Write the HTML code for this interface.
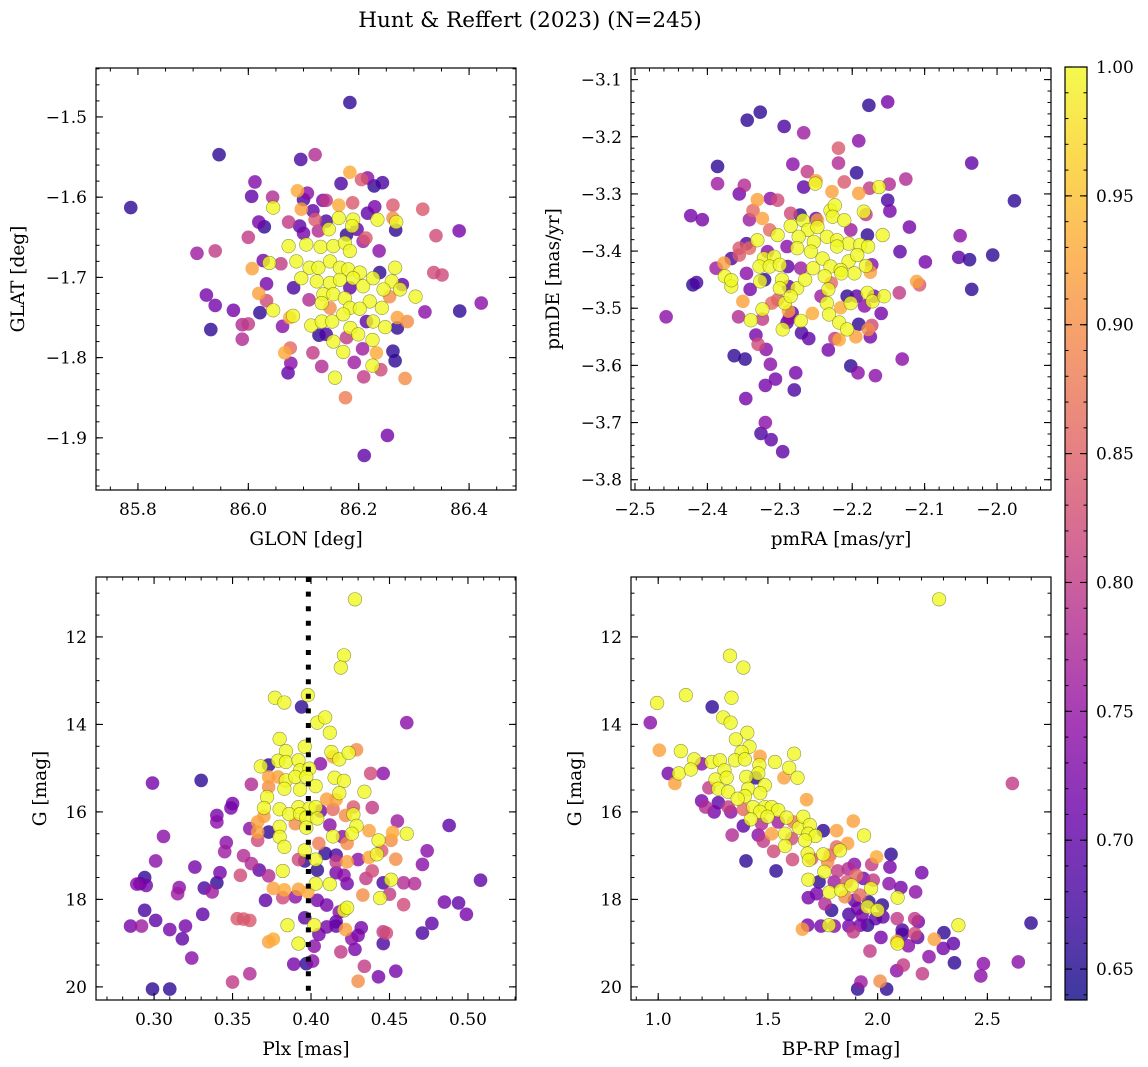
<!DOCTYPE html>
<html><head><meta charset="utf-8">
<style>
html,body{margin:0;padding:0;background:#fff;}
svg{display:block;font-family:"DejaVu Serif","Liberation Serif",serif;}
</style></head>
<body>
<svg id="fig" width="1148" height="1067" viewBox="0 0 1148 1067" xmlns="http://www.w3.org/2000/svg">
<text x="530" y="27" font-size="21.5" text-anchor="middle">Hunt &amp; Reffert (2023) (N=245)</text>
</svg>
<script>
// ---- data: [x, y, membership probability] ----
const glonGlatStars = [
[86.184,-1.482,.66],[85.947,-1.547,.66],[85.787,-1.613,.66],[86.095,-1.553,.68],[86.121,-1.547,.78],[86.184,-1.569,.93],[86.168,-1.583,.68],[86.205,-1.578,.84],[86.216,-1.576,.74],[86.228,-1.586,.66],[86.243,-1.582,.68],
[86.012,-1.581,.73],[86.006,-1.599,.70],[86.044,-1.600,.78],[86.045,-1.613,1.0],[86.089,-1.592,.93],[86.107,-1.595,.74],[86.10,-1.603,.68],[86.096,-1.615,.92],[86.117,-1.617,.70],[86.135,-1.604,.72],[86.141,-1.604,.80],
[86.164,-1.610,.93],[86.189,-1.607,.84],[86.229,-1.612,.72],[86.262,-1.610,.84],[86.316,-1.615,.84],[86.216,-1.620,.70],[86.262,-1.626,.90],[86.268,-1.631,1.0],[86.267,-1.641,.66],[86.234,-1.628,1.0],[86.164,-1.626,1.0],
[86.190,-1.628,1.0],[86.188,-1.636,1.0],[86.121,-1.628,.84],[86.141,-1.630,.68],[86.146,-1.640,1.0],[86.093,-1.636,.70],[86.073,-1.631,.80],[86.019,-1.631,.72],[86.029,-1.637,.66],[86.34,-1.648,.82],[86.382,-1.642,.72],
[86.0,-1.650,.80],[86.10,-1.645,.72],[86.127,-1.642,.78],[86.178,-1.647,.66],[86.197,-1.640,.70],[86.213,-1.651,.84],[86.208,-1.655,.76],[86.073,-1.661,1.0],[86.105,-1.659,1.0],[86.131,-1.662,1.0],[86.154,-1.661,1.0],
[86.175,-1.657,1.0],[86.184,-1.667,1.0],[86.237,-1.667,.74],[85.907,-1.670,.76],[85.94,-1.667,.80],[86.027,-1.679,.72],[86.038,-1.682,1.0],[86.059,-1.683,.80],[86.007,-1.689,.92],[86.087,-1.680,1.0],[86.111,-1.688,1.0],
[86.127,-1.688,1.0],[86.148,-1.680,1.0],[86.166,-1.688,1.0],[86.181,-1.690,1.0],[86.202,-1.694,1.0],[86.238,-1.694,.66],[86.266,-1.688,1.0],[86.336,-1.694,.82],[86.351,-1.697,.82],[86.033,-1.708,.72],[86.082,-1.713,.68],
[86.096,-1.701,1.0],[86.124,-1.705,1.0],[86.148,-1.707,1.0],[86.166,-1.703,1.0],[86.190,-1.701,1.0],[86.208,-1.711,1.0],[86.226,-1.701,1.0],[86.26,-1.705,1.0],[86.279,-1.709,.70],[86.275,-1.715,1.0],[86.245,-1.715,1.0],
[85.924,-1.722,.72],[86.019,-1.720,.92],[86.033,-1.729,.82],[86.11,-1.728,.78],[86.136,-1.721,1.0],[86.154,-1.721,1.0],[86.175,-1.726,1.0],[86.184,-1.713,.70],[86.22,-1.730,1.0],[86.256,-1.724,.90],[86.303,-1.724,1.0],
[85.94,-1.735,.72],[85.973,-1.741,.72],[86.045,-1.741,1.0],[86.021,-1.744,.66],[86.133,-1.732,1.0],[86.148,-1.738,.90],[86.184,-1.738,1.0],[86.202,-1.739,1.0],[86.242,-1.738,1.0],[86.32,-1.743,.74],[86.383,-1.742,.66],
[86.422,-1.732,.74],[85.932,-1.765,.66],[85.989,-1.759,.78],[86.0,-1.758,.80],[85.989,-1.777,.78],[86.062,-1.761,.74],[86.075,-1.750,.93],[86.081,-1.748,1.0],[86.114,-1.760,1.0],[86.133,-1.755,1.0],[86.152,-1.755,1.0],
[86.172,-1.746,1.0],[86.185,-1.763,1.0],[86.214,-1.755,.70],[86.226,-1.755,1.0],[86.248,-1.762,1.0],[86.27,-1.763,.66],[86.27,-1.750,.92],[86.288,-1.755,.90],[86.128,-1.772,.66],[86.141,-1.771,.68],[86.154,-1.780,1.0],
[86.178,-1.775,.80],[86.199,-1.771,1.0],[86.225,-1.778,1.0],[86.207,-1.789,.76],[86.076,-1.788,.86],[86.066,-1.794,.93],[86.117,-1.794,.80],[86.172,-1.793,1.0],[86.232,-1.794,.93],[86.262,-1.792,.66],[86.266,-1.804,.66],
[86.077,-1.807,.74],[86.072,-1.819,.70],[86.133,-1.811,.78],[86.192,-1.806,.76],[86.225,-1.810,1.0],[86.24,-1.815,.82],[86.157,-1.825,1.0],[86.209,-1.824,.80],[86.284,-1.826,.90],[86.176,-1.850,.88],[86.252,-1.897,.72],
[86.21,-1.922,.70]];
const pmStars = [
[-2.177,-3.145,.66],[-2.151,-3.139,.72],[-2.345,-3.171,.66],[-2.327,-3.157,.66],[-2.294,-3.182,.68],[-2.267,-3.193,.76],[-2.191,-3.207,.74],[-2.219,-3.220,.84],[-2.386,-3.252,.66],[-2.282,-3.248,.74],[-2.219,-3.246,.78],
[-2.035,-3.246,.70],[-2.262,-3.261,.80],[-2.194,-3.263,.66],[-2.211,-3.279,.84],[-2.250,-3.277,.92],[-2.251,-3.282,1.0],[-2.267,-3.288,.70],[-2.228,-3.296,.92],[-2.191,-3.299,.92],[-2.176,-3.290,.80],[-2.163,-3.288,1.0],
[-2.149,-3.283,.78],[-2.126,-3.274,.78],[-2.386,-3.282,.76],[-2.349,-3.285,.78],[-2.356,-3.300,.72],[-2.331,-3.310,.92],[-2.313,-3.308,.74],[-2.303,-3.311,.82],[-2.151,-3.311,.68],[-2.148,-3.330,.72],[-1.976,-3.312,.66],
[-2.423,-3.338,.72],[-2.407,-3.345,.72],[-2.337,-3.329,.86],[-2.342,-3.345,.76],[-2.324,-3.343,.92],[-2.285,-3.334,.82],[-2.272,-3.337,.66],[-2.268,-3.346,1.0],[-2.250,-3.343,.70],[-2.248,-3.346,.92],[-2.230,-3.329,1.0],
[-2.224,-3.320,1.0],[-2.227,-3.340,1.0],[-2.211,-3.346,1.0],[-2.184,-3.331,1.0],[-2.181,-3.336,.80],[-2.202,-3.363,.76],[-2.314,-3.363,.86],[-2.285,-3.356,1.0],[-2.261,-3.363,1.0],[-2.248,-3.358,1.0],[-2.121,-3.358,.72],
[-2.331,-3.381,1.0],[-2.346,-3.387,.68],[-2.303,-3.372,1.0],[-2.274,-3.375,1.0],[-2.253,-3.384,1.0],[-2.235,-3.375,1.0],[-2.221,-3.381,1.0],[-2.205,-3.387,1.0],[-2.179,-3.372,.66],[-2.158,-3.372,1.0],[-2.051,-3.373,.74],
[-2.356,-3.395,.84],[-2.342,-3.395,.86],[-2.317,-3.401,.74],[-2.290,-3.392,.74],[-2.276,-3.395,1.0],[-2.257,-3.401,1.0],[-2.221,-3.392,1.0],[-2.189,-3.389,1.0],[-2.178,-3.392,1.0],[-2.134,-3.401,.70],[-2.367,-3.413,.68],
[-2.356,-3.407,.84],[-2.322,-3.413,1.0],[-2.308,-3.410,1.0],[-2.241,-3.413,1.0],[-2.205,-3.418,1.0],[-2.193,-3.407,1.0],[-2.099,-3.419,.72],[-2.053,-3.411,.70],[-2.038,-3.415,.66],[-2.006,-3.407,.66],[-2.388,-3.430,.76],
[-2.377,-3.421,.92],[-2.346,-3.439,.74],[-2.328,-3.427,1.0],[-2.314,-3.427,1.0],[-2.300,-3.424,1.0],[-2.289,-3.427,.70],[-2.271,-3.430,.76],[-2.254,-3.430,1.0],[-2.230,-3.427,1.0],[-2.216,-3.433,1.0],[-2.197,-3.439,1.0],
[-2.181,-3.426,1.0],[-2.173,-3.424,.74],[-2.175,-3.437,.92],[-2.376,-3.444,1.0],[-2.420,-3.459,.66],[-2.415,-3.455,.68],[-2.367,-3.462,1.0],[-2.367,-3.451,1.0],[-2.327,-3.453,1.0],[-2.321,-3.450,.66],[-2.297,-3.450,1.0],
[-2.288,-3.462,.70],[-2.276,-3.465,1.0],[-2.265,-3.450,1.0],[-2.238,-3.444,1.0],[-2.229,-3.456,.86],[-2.215,-3.439,1.0],[-2.111,-3.453,.92],[-2.107,-3.459,.84],[-2.035,-3.467,.66],[-2.341,-3.467,.72],[-2.300,-3.465,1.0],
[-2.233,-3.467,1.0],[-2.243,-3.479,.76],[-2.207,-3.479,.66],[-2.194,-3.479,.70],[-2.179,-3.473,1.0],[-2.170,-3.479,.72],[-2.172,-3.488,1.0],[-2.156,-3.479,1.0],[-2.135,-3.473,.80],[-2.457,-3.515,.74],[-2.357,-3.515,.78],
[-2.351,-3.488,.92],[-2.340,-3.521,1.0],[-2.324,-3.502,1.0],[-2.311,-3.491,.86],[-2.303,-3.485,.84],[-2.293,-3.491,1.0],[-2.288,-3.505,.92],[-2.285,-3.479,1.0],[-2.283,-3.508,.70],[-2.271,-3.522,1.0],[-2.255,-3.509,.93],
[-2.235,-3.491,1.0],[-2.232,-3.511,1.0],[-2.216,-3.499,.93],[-2.202,-3.491,1.0],[-2.183,-3.496,.74],[-2.160,-3.509,.72],[-2.324,-3.519,.80],[-2.296,-3.537,1.0],[-2.290,-3.525,.70],[-2.287,-3.517,.74],[-2.218,-3.525,1.0],
[-2.207,-3.537,1.0],[-2.191,-3.528,.66],[-2.173,-3.530,.82],[-2.178,-3.537,.90],[-2.333,-3.547,.72],[-2.330,-3.563,.82],[-2.319,-3.572,.74],[-2.270,-3.543,.68],[-2.260,-3.553,.70],[-2.233,-3.573,.72],[-2.224,-3.553,.80],
[-2.218,-3.555,.93],[-2.195,-3.550,.92],[-2.175,-3.550,.72],[-2.363,-3.583,.66],[-2.348,-3.589,.66],[-2.313,-3.598,.74],[-2.131,-3.589,.74],[-2.202,-3.601,.66],[-2.192,-3.613,.74],[-2.168,-3.618,.74],[-2.278,-3.613,.72],
[-2.306,-3.624,.72],[-2.320,-3.635,.72],[-2.280,-3.643,.68],[-2.347,-3.658,.72],[-2.320,-3.700,.74],[-2.326,-3.719,.68],[-2.312,-3.730,.70],[-2.296,-3.751,.70]];
const plxGStars = [
[.428,11.14,1.0],[.421,12.42,1.0],[.419,12.70,1.0],[.377,13.39,1.0],[.383,13.50,1.0],[.394,13.60,.66],[.398,13.33,1.0],[.404,13.96,1.0],[.409,13.84,1.0],[.461,13.96,.74],[.412,14.19,1.0],[.380,14.33,1.0],[.384,14.61,1.0],
[.396,14.51,1.0],[.413,14.63,1.0],[.414,14.74,.92],[.418,14.80,1.0],[.424,14.65,1.0],[.429,14.58,.90],[.368,14.96,1.0],[.373,14.93,.66],[.379,14.83,1.0],[.384,14.86,1.0],[.392,14.82,1.0],[.393,15.05,1.0],[.399,15.01,1.0],
[.406,14.90,.74],[.438,15.12,.82],[.446,15.12,.74],[.299,15.34,.72],[.330,15.28,.66],[.362,15.37,.78],[.373,15.20,.92],[.379,15.20,.92],[.384,15.28,1.0],[.390,15.20,1.0],[.397,15.20,1.0],[.403,15.41,1.0],[.415,15.22,1.0],
[.421,15.29,1.0],[.373,15.43,.90],[.383,15.47,1.0],[.393,15.49,1.0],[.418,15.57,1.0],[.434,15.54,1.0],[.372,15.66,1.0],[.410,15.71,.92],[.416,15.72,.92],[.350,15.81,.72],[.349,15.91,.72],[.370,15.91,1.0],[.380,15.94,1.0],
[.392,15.89,1.0],[.399,15.92,1.0],[.403,15.89,1.0],[.406,15.98,.72],[.414,15.94,.86],[.427,15.89,.84],[.439,15.90,.80],[.340,16.08,.72],[.340,16.23,.74],[.366,16.23,.92],[.370,16.10,.92],[.386,16.05,1.0],[.393,16.05,1.0],
[.397,16.13,1.0],[.404,16.15,1.0],[.422,16.08,.90],[.427,16.06,1.0],[.455,16.21,.76],[.488,16.31,.70],[.361,16.38,.74],[.366,16.46,.92],[.373,16.46,.66],[.380,16.34,1.0],[.390,16.27,.90],[.397,16.36,1.0],[.412,16.30,.74],
[.429,16.32,1.0],[.306,16.56,.74],[.346,16.70,.74],[.345,16.91,.76],[.366,16.65,.82],[.380,16.57,1.0],[.383,16.80,1.0],[.414,16.56,1.0],[.420,16.57,.74],[.423,16.72,.90],[.426,16.50,1.0],[.437,16.43,.92],[.443,16.65,1.0],
[.452,16.47,.93],[.461,16.50,1.0],[.451,16.65,.90],[.405,16.72,.88],[.396,16.88,1.0],[.301,17.12,.74],[.357,17.00,.78],[.362,17.18,.78],[.392,17.09,.82],[.396,17.12,.66],[.403,17.09,1.0],[.409,16.95,.66],[.416,16.99,.68],
[.416,17.14,.80],[.423,17.14,.92],[.430,17.09,.74],[.437,17.04,.93],[.442,16.97,1.0],[.445,16.89,.84],[.454,17.08,.90],[.471,17.20,.74],[.474,16.89,.74],[.326,17.26,.72],[.342,17.39,.72],[.367,17.33,.70],[.382,17.35,1.0],
[.404,17.33,.66],[.416,17.39,.72],[.421,17.45,.74],[.439,17.35,.82],[.435,17.52,.80],[.294,17.50,.66],[.289,17.65,.74],[.295,17.68,.72],[.291,17.64,.70],[.316,17.73,.74],[.315,17.87,.76],[.332,17.74,.68],[.340,17.62,.66],
[.337,17.83,.76],[.355,17.45,.82],[.373,17.46,.78],[.403,17.64,1.0],[.412,17.65,1.0],[.423,17.64,.72],[.446,17.62,.68],[.451,17.55,1.0],[.459,17.62,.78],[.466,17.64,.78],[.508,17.56,.70],[.376,17.75,.92],[.383,17.78,.93],
[.382,17.96,.82],[.390,17.94,.74],[.392,17.77,.92],[.398,17.83,.93],[.371,18.02,.70],[.404,18.02,.72],[.410,18.13,.72],[.433,17.90,.90],[.444,17.97,1.0],[.450,17.88,.80],[.459,18.12,.82],[.485,18.06,.72],[.494,18.08,.70],
[.499,18.34,.72],[.294,18.25,.68],[.301,18.48,.70],[.285,18.61,.72],[.292,18.61,.76],[.310,18.69,.72],[.320,18.61,.72],[.331,18.34,.70],[.318,18.90,.70],[.353,18.44,.84],[.357,18.45,.84],[.361,18.48,.84],[.385,18.59,1.0],
[.396,18.42,.70],[.402,18.59,1.0],[.410,18.63,.72],[.416,18.51,.70],[.416,18.61,.70],[.421,18.25,1.0],[.423,18.19,1.0],[.418,18.29,.74],[.422,18.69,.92],[.432,18.65,.72],[.430,18.82,.72],[.426,18.90,.74],[.446,18.74,.80],
[.448,18.77,.82],[.471,18.77,.68],[.477,18.55,.70],[.373,18.97,.92],[.376,18.91,.93],[.392,19.01,1.0],[.405,18.80,.72],[.402,19.07,.74],[.419,19.20,.80],[.428,19.14,.72],[.446,19.01,.68],[.324,19.34,.74],[.389,19.48,.72],
[.397,19.47,.66],[.401,19.41,.74],[.434,19.53,.80],[.454,19.64,.72],[.443,19.77,.72],[.361,19.70,.78],[.350,19.89,.80],[.430,19.87,.90],[.299,20.05,.66],[.310,20.05,.66]];
const cmdStars = [
[2.280,11.14,1.0],[1.327,12.43,1.0],[1.388,12.70,1.0],[0.995,13.51,1.0],[1.126,13.33,1.0],[1.334,13.39,1.0],[1.246,13.60,.66],[0.964,13.96,.74],[1.296,13.84,1.0],[1.330,13.96,1.0],[1.406,14.19,1.0],[1.354,14.34,1.0],
[1.416,14.51,1.0],[1.005,14.59,.92],[1.103,14.61,1.0],[1.380,14.63,1.0],[1.464,14.73,.92],[1.619,14.67,1.0],[1.164,14.80,1.0],[1.243,14.86,1.0],[1.281,14.82,1.0],[1.350,14.82,1.0],[1.395,14.80,1.0],[1.532,14.86,1.0],
[1.461,14.93,1.0],[1.198,14.90,.74],[1.046,15.12,.72],[1.094,15.12,1.0],[1.149,15.03,1.0],[1.302,15.05,1.0],[1.456,15.12,1.0],[1.597,14.99,1.0],[1.261,15.26,1.0],[1.312,15.22,1.0],[1.401,15.20,1.0],[1.444,15.22,.66],
[1.635,15.22,1.0],[1.573,15.22,.92],[1.076,15.35,.92],[2.614,15.35,.80],[1.231,15.45,.80],[1.274,15.47,1.0],[1.410,15.47,1.0],[1.486,15.39,1.0],[1.319,15.54,1.0],[1.465,15.57,1.0],[1.395,15.64,1.0],[1.676,15.72,.92],
[1.362,15.70,1.0],[1.198,15.75,.72],[1.274,15.79,.70],[1.216,15.89,.78],[1.255,16.00,.72],[1.319,15.89,.80],[1.331,16.00,.74],[1.388,15.94,.86],[1.433,15.89,1.0],[1.486,15.89,1.0],[1.517,15.89,1.0],[1.464,16.00,1.0],
[1.422,16.17,1.0],[1.547,15.96,1.0],[1.585,16.13,1.0],[1.498,16.11,1.0],[1.471,16.27,.78],[1.388,16.32,.70],[1.547,16.23,.76],[1.616,16.23,.88],[1.641,16.36,1.0],[1.661,16.11,1.0],[1.691,16.30,1.0],[1.889,16.21,.92],
[1.752,16.43,.66],[1.813,16.43,.92],[1.938,16.54,1.0],[1.337,16.53,.78],[1.456,16.53,.74],[1.517,16.50,.92],[1.578,16.50,1.0],[1.608,16.61,.82],[1.684,16.50,1.0],[1.717,16.55,1.0],[1.669,16.65,1.0],[1.479,16.67,.80],
[1.578,16.78,1.0],[1.863,16.72,.92],[1.813,16.80,.86],[1.526,16.90,.82],[1.612,17.09,.82],[1.681,16.95,1.0],[1.699,17.07,.84],[1.752,16.97,1.0],[1.828,16.88,1.0],[1.783,16.99,.86],[1.400,17.12,.66],[1.537,17.35,.66],
[1.687,17.10,1.0],[1.772,17.14,.90],[1.866,17.30,.78],[1.894,17.20,.74],[1.973,17.20,.80],[1.995,17.03,.93],[2.061,16.97,.66],[2.056,17.26,.72],[2.201,17.39,.72],[1.757,17.37,1.0],[1.818,17.35,.80],[1.903,17.45,.86],
[1.684,17.55,1.0],[1.733,17.60,.66],[1.802,17.60,.76],[1.859,17.60,.84],[1.935,17.52,.72],[1.980,17.56,.80],[2.052,17.64,.74],[2.106,17.73,.72],[2.173,17.83,.74],[1.780,17.84,1.0],[1.833,17.79,1.0],[1.881,17.68,1.0],
[1.970,17.75,1.0],[1.851,17.94,.90],[1.919,17.90,.86],[1.684,17.96,.72],[1.722,17.87,.72],[1.894,18.02,.70],[1.960,18.06,.66],[2.091,17.96,1.0],[1.760,18.10,.78],[1.790,18.25,.66],[1.909,18.21,.72],[1.954,18.17,1.0],
[2.0,18.25,1.0],[2.021,18.13,.66],[1.869,18.34,.68],[1.929,18.36,.72],[1.990,18.44,.70],[2.024,18.40,.70],[2.089,18.44,.80],[2.169,18.44,.80],[2.185,18.51,.72],[1.681,18.59,.72],[1.657,18.68,.92],[1.742,18.61,.72],
[1.778,18.59,1.0],[1.802,18.61,.74],[1.869,18.61,.72],[1.921,18.59,.72],[1.954,18.59,.66],[1.889,18.74,.80],[2.112,18.70,.68],[2.112,18.80,.68],[2.169,18.78,.82],[2.182,18.87,.70],[2.302,18.76,.66],[2.368,18.59,1.0],
[2.699,18.54,.66],[2.015,18.87,.72],[2.087,18.96,.93],[2.091,19.01,1.0],[2.140,19.06,.74],[2.258,18.91,.92],[2.299,19.12,.72],[2.345,19.01,.70],[1.965,19.18,.80],[2.234,19.31,.74],[2.350,19.45,.66],[2.482,19.47,.74],
[2.641,19.43,.74],[2.117,19.50,.80],[2.087,19.63,.74],[2.204,19.70,.80],[2.470,19.75,.74],[1.924,19.89,.76],[2.011,19.87,.90],[1.909,20.05,.66],[2.041,20.05,.66]];
const plxReference = [0.3983];
const glonTicks = [85.8, 86.0, 86.2, 86.4];
const glatTicks = [-1.5, -1.6, -1.7, -1.8, -1.9];
const pmraTicks = [-2.5, -2.4, -2.3, -2.2, -2.1, -2.0];
const pmdeTicks = [-3.1, -3.2, -3.3, -3.4, -3.5, -3.6, -3.7, -3.8];
const plxTicks = [0.30, 0.35, 0.40, 0.45, 0.50];
const gTicks = [12, 14, 16, 18, 20];
const bprpTicks = [1.0, 1.5, 2.0, 2.5];
const cbarTicks = [0.65, 0.70, 0.75, 0.80, 0.85, 0.90, 0.95, 1.00];

const NS = "http://www.w3.org/2000/svg";
const svg = document.getElementById('fig');
const VMIN = 0.638, VMAX = 1.0;
const plasma = [[13,8,135],[65,4,157],[106,0,168],[143,13,164],[177,42,144],[204,71,120],[225,100,98],[242,132,75],[252,166,54],[252,206,37],[240,249,33]];
function cmap(v){
  let t = Math.max(0, Math.min(1, (v - VMIN) / (VMAX - VMIN))) * 10;
  const i = Math.min(9, Math.floor(t)), f = t - i;
  const a = plasma[i], b = plasma[i+1];
  return 'rgb(' + [0,1,2].map(k => Math.round(a[k] + (b[k]-a[k])*f)).join(',') + ')';
}
function mk(tag, attrs, parent){
  const e = document.createElementNS(NS, tag);
  for (const k in attrs) e.setAttribute(k, attrs[k]);
  (parent || svg).appendChild(e);
  return e;
}
function fmt(v, d){ return (v < 0 ? '\u2212' : '') + Math.abs(v).toFixed(d); }

function panel(cfg){
  const g = mk('g', {});
  
  
  const L = cfg.box[0], T = cfg.box[1], R = cfg.box[2], B = cfg.box[3];
  const sx = v => L + (v - cfg.xr[0]) / (cfg.xr[1] - cfg.xr[0]) * (R - L);
  const sy = v => cfg.yInv ? T + (v - cfg.yr[0]) / (cfg.yr[1] - cfg.yr[0]) * (B - T)
                           : B - (v - cfg.yr[0]) / (cfg.yr[1] - cfg.yr[0]) * (B - T);
  const clip = mk('clipPath', {id: cfg.name + '-clip'}, g);
  mk('rect', {x: L, y: T, width: R - L, height: B - T}, clip);
  const pts = mk('g', {'clip-path': 'url(#' + cfg.name + '-clip)'}, g);
  const sorted = cfg.data.slice().sort((a, b) => a[2] - b[2]);
  sorted.forEach(d => {
    const c = mk('circle', {cx: sx(d[0]), cy: sy(d[1]), r: 6.8, fill: cmap(d[2]), 'fill-opacity': 0.8,
      stroke: d[2] > 0.95 ? 'rgba(70,70,20,0.55)' : 'none', 'stroke-width': 0.6}, pts);
    
    
  });
  if (cfg.vline) cfg.vline.forEach(v => {
    const ln = mk('line', {x1: sx(v), x2: sx(v), y1: T, y2: B, stroke: '#000', 'stroke-width': 5, 'stroke-dasharray': '5,9.6'}, pts);
    
    
  });
  const minor = (a, b, step, fn) => { const n0 = Math.ceil(a/step - 1e-6), n1 = Math.floor(b/step + 1e-6); for (let n = n0; n <= n1; n++) fn(n*step); };
  minor(cfg.xr[0], cfg.xr[1], cfg.xminor, v => { const x = sx(v);
    mk('line', {x1: x, x2: x, y1: B, y2: B - 3.5, stroke: '#000', 'stroke-width': 1}, g);
    mk('line', {x1: x, x2: x, y1: T, y2: T + 3.5, stroke: '#000', 'stroke-width': 1}, g); });
  const ylo = Math.min(cfg.yr[0], cfg.yr[1]), yhi = Math.max(cfg.yr[0], cfg.yr[1]);
  minor(ylo, yhi, cfg.yminor, v => { const y = sy(v);
    mk('line', {x1: L, x2: L + 3.5, y1: y, y2: y, stroke: '#000', 'stroke-width': 1}, g);
    mk('line', {x1: R, x2: R - 3.5, y1: y, y2: y, stroke: '#000', 'stroke-width': 1}, g); });
  cfg.xt.forEach(v => { const x = sx(v);
    mk('line', {x1: x, x2: x, y1: B, y2: B - 7, stroke: '#000', 'stroke-width': 1.1}, g);
    mk('line', {x1: x, x2: x, y1: T, y2: T + 7, stroke: '#000', 'stroke-width': 1.1}, g);
    const t = mk('text', {x: x, y: B + 25, 'font-size': 17, 'text-anchor': 'middle'}, g);
    t.textContent = fmt(v, cfg.xd);
    
     });
  cfg.yt.forEach(v => { const y = sy(v);
    mk('line', {x1: L, x2: L + 7, y1: y, y2: y, stroke: '#000', 'stroke-width': 1.1}, g);
    mk('line', {x1: R, x2: R - 7, y1: y, y2: y, stroke: '#000', 'stroke-width': 1.1}, g);
    const t = mk('text', {x: L - 9, y: y + 6, 'font-size': 17, 'text-anchor': 'end'}, g);
    t.textContent = fmt(v, cfg.yd);
    
     });
  const fr = mk('rect', {x: L, y: T, width: R - L, height: B - T, fill: 'none', stroke: '#000', 'stroke-width': 1.2}, g);
  
  
  const xl = mk('text', {x: (L + R)/2, y: B + 55, 'font-size': 18.5, 'text-anchor': 'middle'}, g);
  xl.textContent = cfg.xlabel;
  
  
  const yl = mk('text', {x: 0, y: 0, 'font-size': 18.5, 'text-anchor': 'middle', transform: 'translate(' + cfg.ylx + ',' + (T + B)/2 + ') rotate(-90)'}, g);
  yl.textContent = cfg.ylabel;
  
  
}

panel({name:'glon-glat-panel', box:[96,68,516,490], xr:[85.724,86.485], yr:[-1.965,-1.439], data:glonGlatStars,
  xt:glonTicks, yt:glatTicks, xd:1, yd:1, xminor:0.05, yminor:0.02, xlabel:'GLON [deg]', ylabel:'GLAT [deg]', ylx:24});
panel({name:'proper-motion-panel', box:[631,68,1051,490], xr:[-2.5055,-1.9255], yr:[-3.818,-3.0797], data:pmStars,
  xt:pmraTicks, yt:pmdeTicks, xd:1, yd:1, xminor:0.02, yminor:0.02, xlabel:'pmRA [mas/yr]', ylabel:'pmDE [mas/yr]', ylx:559});
panel({name:'parallax-magnitude-panel', box:[96,577,516,1000], xr:[0.263,0.5306], yr:[10.63,20.30], yInv:true, data:plxGStars,
  xt:plxTicks, yt:gTicks, xd:2, yd:0, xminor:0.01, yminor:0.5, xlabel:'Plx [mas]', ylabel:'G [mag]', ylx:46, vline:plxReference});
panel({name:'color-magnitude-panel', box:[631,577,1051,1000], xr:[0.876,2.79], yr:[10.63,20.30], yInv:true, data:cmdStars,
  xt:bprpTicks, yt:gTicks, xd:1, yd:0, xminor:0.1, yminor:0.5, xlabel:'BP-RP [mag]', ylabel:'G [mag]', ylx:581});

(function(){
  const L = 1065, R = 1087, T = 67, B = 1000;
  const cy = v => B - (v - VMIN) / (VMAX - VMIN) * (B - T);
  const g = mk('g', {});
  
  
  const defs = mk('defs', {}, g);
  const lg = mk('linearGradient', {id: 'cbgrad', x1: 0, y1: 1, x2: 0, y2: 0}, defs);
  plasma.forEach((c, i) => mk('stop', {offset: i/10, 'stop-color': 'rgb(' + c.join(',') + ')', 'stop-opacity': 0.8}, lg));
  mk('rect', {x: L, y: T, width: R - L, height: B - T, fill: 'url(#cbgrad)', stroke: '#000', 'stroke-width': 1.2}, g);
  for (let v = 0.64; v <= 1.0001; v += 0.01) {
    const y = cy(v);
    mk('line', {x1: R, x2: R - 3.5, y1: y, y2: y, stroke: '#000', 'stroke-width': 1}, g);
    mk('line', {x1: L, x2: L + 3.5, y1: y, y2: y, stroke: '#000', 'stroke-width': 1}, g);
  }
  cbarTicks.forEach(v => { const y = cy(v);
    mk('line', {x1: R, x2: R - 7, y1: y, y2: y, stroke: '#000', 'stroke-width': 1.1}, g);
    mk('line', {x1: L, x2: L + 7, y1: y, y2: y, stroke: '#000', 'stroke-width': 1.1}, g);
    const t = mk('text', {x: R + 9, y: y + 6, 'font-size': 17}, g);
    t.textContent = v.toFixed(2);
    
     });
})();
</script>
</body></html>
